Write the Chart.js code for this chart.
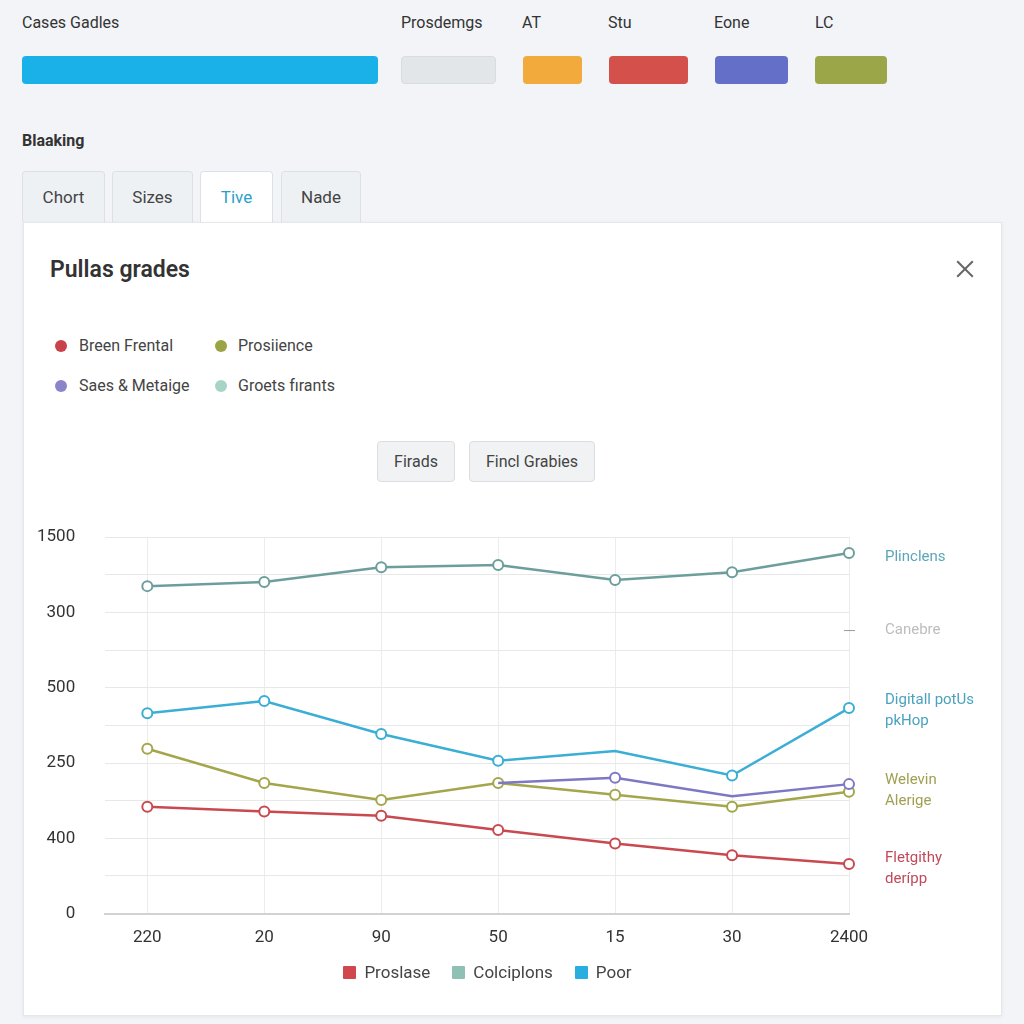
<!DOCTYPE html>
<html>
<head>
<meta charset="utf-8">
<script src="https://cdn.jsdelivr.net/npm/chart.js@4.4.1/dist/chart.umd.min.js"></script>
<style>
    body { margin: 0; width: 1024px; height: 1024px; background: #f2f4f7; font-family: Roboto, "Noto Sans", sans-serif; position: relative; overflow: hidden; }
    .abs { position: absolute; }
    .toplabel { font-size: 16px; color: #333; top: 13px; }
    .swatch { top: 56px; height: 28px; border-radius: 4px; }
    .section { left: 22px; top: 131px; font-size: 16px; font-weight: 700; color: #333; }
    .tab { top: 171px; height: 51px; line-height: 50px; text-align: center; font-size: 17px; color: #444; background: #eef1f4; border: 1px solid #dde1e6; border-bottom: none; border-radius: 4px 4px 0 0; box-sizing: border-box; }
    .tab.active { background: #fff; color: #2a9fc9; }
    .card { left: 23px; top: 222px; width: 979px; height: 794px; background: #fff; border: 1px solid #e4e7eb; box-shadow: 0 1px 4px rgba(0,0,0,0.06); box-sizing: border-box; }
    .title { left: 50px; top: 256px; font-size: 23px; font-weight: 600; color: #333; }
    .close { left: 954px; top: 258px; width: 22px; height: 22px; }
    .close::before, .close::after { content: ""; position: absolute; left: 0; top: 10px; width: 22px; height: 2px; background: #666; }
    .close::before { transform: rotate(45deg); }
    .close::after { transform: rotate(-45deg); }
    .lg { font-size: 16px; color: #444; }
    .dot { width: 12px; height: 12px; border-radius: 50%; }
    .btn { top: 441px; height: 41px; line-height: 40px; text-align: center; font-size: 16px; color: #444; background: #f0f2f4; border: 1px solid #dadee3; border-radius: 4px; box-sizing: border-box; }
    #chartBox { position: absolute; left: -9px; top: 497px; width: 1011px; height: 473px; }
    #bottomLegend { position: absolute; left: 23px; width: 979px; top: 962px; text-align: center; font-size: 17px; color: #444; padding-right: 50px; box-sizing: border-box; }
    #bottomLegend span.item { display: inline-block; margin: 0 11px; }
    #bottomLegend span.box { display: inline-block; width: 13px; height: 13px; margin-right: 8px; vertical-align: -1px; border-radius: 1px; }
</style>
</head>
<body>

<div class="abs toplabel" style="left:22px">Cases Gadles</div>
<div class="abs toplabel" style="left:401px">Prosdemgs</div>
<div class="abs toplabel" style="left:522px">AT</div>
<div class="abs toplabel" style="left:608px">Stu</div>
<div class="abs toplabel" style="left:714px">Eone</div>
<div class="abs toplabel" style="left:815px">LC</div>

<div class="abs swatch" style="left:22px;width:356px;background:#1ab1e8"></div>
<div class="abs swatch" style="left:401px;width:95px;background:#e3e6e9;border:1px solid #d8dce0;box-sizing:border-box"></div>
<div class="abs swatch" style="left:523px;width:59px;background:#f2aa3c"></div>
<div class="abs swatch" style="left:609px;width:79px;background:#d4504a"></div>
<div class="abs swatch" style="left:715px;width:73px;background:#6470c8"></div>
<div class="abs swatch" style="left:815px;width:72px;background:#9aa648"></div>

<div class="abs section">Blaaking</div>

<div class="abs tab" style="left:22px;width:83px">Chort</div>
<div class="abs tab" style="left:112px;width:81px">Sizes</div>
<div class="abs tab active" style="left:200px;width:73px">Tive</div>
<div class="abs tab" style="left:281px;width:80px">Nade</div>

<div class="abs card"></div>
<div class="abs title">Pullas grades</div>
<div class="abs close"></div>

<div class="abs dot" style="left:55px;top:340px;background:#c9424a"></div>
<div class="abs lg" style="left:79px;top:336px">Breen Frental</div>
<div class="abs dot" style="left:215px;top:340px;background:#9aa444"></div>
<div class="abs lg" style="left:238px;top:336px">Prosiience</div>
<div class="abs dot" style="left:55px;top:380px;background:#8c84c8"></div>
<div class="abs lg" style="left:79px;top:376px">Saes &amp; Metaige</div>
<div class="abs dot" style="left:215px;top:380px;background:#a8d4c8"></div>
<div class="abs lg" style="left:238px;top:376px">Groets fırants</div>

<div class="abs btn" style="left:377px;width:78px">Firads</div>
<div class="abs btn" style="left:469px;width:126px">Fincl Grabies</div>

<div id="chartBox"><canvas id="lineChart"></canvas></div>
<div id="bottomLegend"></div>

<script>
// ------------------------------
// Chart data
// ------------------------------

const categories = ["220", "20", "90", "50", "15", "30", "2400"];

// y axis runs 0..10, only the even steps carry a label
const yTickLabels = ["0", "", "400", "", "250", "", "500", "", "300", "", "1500"];

const tealValues   = [8.70, 8.81, 9.20, 9.26, 8.86, 9.07, 9.58];
const blueValues   = [5.32, 5.65, 4.77, 4.06, 4.32, 3.67, 5.46];
const oliveValues  = [4.38, 3.47, 3.02, 3.47, 3.16, 2.84, 3.24];
const purpleValues = [null, null, null, 3.47, 3.61, 3.12, 3.44];
const redValues    = [2.84, 2.71, 2.60, 2.22, 1.86, 1.55, 1.32];

const legendNames  = ["Proslase", "Colciplons", "Poor"];
const legendColors = ["#d0474d", "#8fc0b4", "#2aaee0"];

// labels beside the right edge of the plot
const sideLabels = [
    { lines: ["Plinclens"], value: 9.47, color: "#5ba5b8" },
    { lines: ["Canebre"], value: 7.52, color: "#bdbdbd", dash: true },
    { lines: ["Digitall potUs", "pkHop"], value: 5.38, color: "#4aa2c0" },
    { lines: ["Welevin", "Alerige"], value: 3.26, color: "#a0a052" },
    { lines: ["Fletgithy", "derípp"], value: 1.19, color: "#c04a5c" }
];

// ------------------------------
// Bottom legend
// ------------------------------

document.getElementById("bottomLegend").innerHTML = legendNames.map((name, i) =>
    '<span class="item"><span class="box" style="background:' + legendColors[i] + '"></span>' + name + '</span>'
).join("");

// ------------------------------
// Side labels plugin
// ------------------------------

const sideLabelPlugin = {
    id: "sideLabels",
    afterDraw(chart) {
        const ctx = chart.ctx;
        const y = chart.scales.y;
        const right = chart.chartArea.right;
        ctx.save();
        ctx.font = "15px Roboto";
        ctx.textBaseline = "middle";
        sideLabels.forEach(item => {
            const cy = y.getPixelForValue(item.value);
            const lh = 21;
            const start = cy - (item.lines.length - 1) * lh / 2;
            ctx.fillStyle = item.color;
            item.lines.forEach((t, i) => ctx.fillText(t, right + 36, start + i * lh));
            if (item.dash) {
                ctx.strokeStyle = "#999";
                ctx.lineWidth = 1;
                ctx.beginPath();
                ctx.moveTo(right - 5, cy);
                ctx.lineTo(right + 6, cy);
                ctx.stroke();
            }
        });
        ctx.restore();
    }
};

function lineSet(label, values, color) {
    return {
        label: label,
        data: values.map((v, i) => ({ x: i, y: v })),
        borderColor: color,
        backgroundColor: "#ffffff",
        pointBorderColor: color,
        pointBackgroundColor: "#ffffff",
        pointRadius: 5,
        pointBorderWidth: 2,
        borderWidth: 2.5,
        spanGaps: false,
        clip: false,
        tension: 0
    };
}

const blueSet = lineSet("Poor", blueValues, "#3aaed4");
blueSet.pointRadius = [5, 5, 5, 5, 0, 5, 5];

const purpleSet = lineSet("Saes & Metaige", purpleValues, "#7e78c2");
purpleSet.pointRadius = [0, 0, 0, 0, 5, 0, 5];

new Chart(document.getElementById("lineChart"), {

    type: "line",

    data: {
        datasets: [
            lineSet("Groets fırants", tealValues, "#6c9f9c"),
            blueSet,
            purpleSet,
            lineSet("Prosiience", oliveValues, "#a3a64a"),
            lineSet("Breen Frental", redValues, "#c8494f")
        ]
    },

    options: {
        responsive: true,
        maintainAspectRatio: false,
        animation: false,
        layout: { padding: { left: 16, right: 153, top: 26, bottom: 8 } },
        plugins: {
            tooltip: { enabled: false },
            legend: { display: false }
        },
        scales: {
            x: {
                type: "linear",
                min: -0.36,
                max: categories.length - 1,
                afterBuildTicks: scale => {
                    scale.ticks = categories.map((_, i) => ({ value: i }));
                },
                grid: { color: "#ececec", drawTicks: false },
                border: { color: "#d2d2d2", width: 2 },
                ticks: {
                    color: "#333",
                    font: { family: "Roboto", size: 17 },
                    padding: 14,
                    callback: v => categories[v]
                }
            },
            y: {
                min: 0,
                max: 10,
                grid: { color: "#e8e8e8", drawTicks: false },
                border: { display: false },
                ticks: {
                    stepSize: 1,
                    color: "#333",
                    padding: 30,
                    font: { family: "Roboto", size: 17 },
                    callback: v => yTickLabels[v]
                }
            }
        }
    },

    plugins: [sideLabelPlugin]

});
</script>
</body>
</html>
